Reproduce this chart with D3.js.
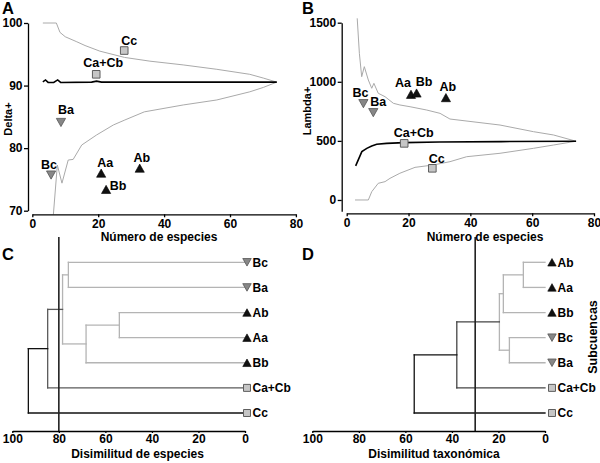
<!DOCTYPE html>
<html><head><meta charset="utf-8">
<script src="https://cdn.jsdelivr.net/npm/d3@7"></script>
<style>
body{margin:0;background:#fff}
svg{display:block}
</style></head><body>
<svg id="c" width="600" height="463"></svg>
<script>
// ---------- DATA ----------
const sites      = ["Aa","Ab","Ba","Bb","Bc","Ca+Cb","Cc"];
const siteGroup  = ["A","A","B","A","B","C","C"];
const speciesA   = [20.9, 32.6, 8.7, 22.4, 5.7, 19.4, 27.9];
const deltaPlus  = [76.0, 76.8, 84.1, 73.4, 75.7, 91.8, 95.6];
const speciesB   = [20.8, 32.1, 8.6, 22.6, 5.4, 18.6, 27.7];
const lambdaPlus = [894, 866, 739, 905, 815, 479, 268];

const deltaMean  = [[3.2,90.6],[4.0,90.9],[4.8,90.5],[6.5,90.5],[7.7,90.9],[8.6,90.5],[18,90.55],[19.5,90.7],[21,90.55],[74.2,90.55]];
const deltaUpper = [[3.2,100],[7.3,100],[8.4,98.5],[10,97.8],[13.5,97.0],[16,96.4],[20.5,95.5],[28,94.5],[35.7,93.9],[45.8,93.3],[56,92.6],[66,91.8],[70.1,91.2],[74.2,90.55]];
const deltaLower = [[6.4,69.4],[7.6,77.3],[9.0,74.4],[10.9,78.1],[12.4,78.2],[15.0,80.5],[19.5,82.1],[24.6,83.7],[28.1,84.5],[34,85.8],[45.8,86.9],[56,87.7],[66,89.0],[70.1,89.7],[74.2,90.55]];

const lambdaMean  = [[2.9,288],[4.9,409],[6.5,437],[8.1,457],[9.7,471],[12.9,479],[18.6,485],[30,490],[50,494],[74.2,497]];
const lambdaUpper = [[3.4,1537],[4.1,1241],[4.85,1043],[5.7,1128],[7.0,1015],[8.1,945],[8.8,987],[10.2,903],[12.4,874],[15.1,818],[17.2,804],[20.5,789],[25.9,761],[30.2,733],[33.4,685],[49.6,634],[60.4,578],[66.9,550],[74.2,497]];
const lambdaLower = [[2.7,0],[7.0,0],[8.1,70],[10.2,141],[12.4,155],[14.0,183],[17.2,226],[22.1,276],[28,296],[33.4,324],[38.8,366],[49.6,395],[60.4,437],[66.9,465],[74.2,497]];

const leavesC = ["Bc","Ba","Ab","Aa","Bb","Ca+Cb","Cc"];
const mergesC = [["Bc","Ba",75.9],["Ab","Aa",54.0],["m2","Bb",68.3],["m1","m3",78.4],["m4","Ca+Cb",84.8],["m5","Cc",93.1]];
const leavesD = ["Ab","Aa","Bb","Bc","Ba","Ca+Cb","Cc"];
const mergesD = [["Ab","Aa",9.3],["m1","Bb",17.9],["Bc","Ba",15.3],["m2","m3",19.6],["m4","Ca+Cb",37.9],["m5","Cc",56.2]];
const cutC = 80, cutD = 30;

const ticksX = [0,20,40,60,80];
const ticksDelta = [70,80,90,100];
const ticksLambda = [0,500,1000,1500];
const ticksDis = [100,80,60,40,20,0];

// ---------- STYLE ----------
const F = '"Liberation Sans", Arial, Helvetica, sans-serif';
const LIGHT = "#b4b4b4", DARK = "#5a5a5a", BLACK = "#111";
const colorsC = [LIGHT,LIGHT,LIGHT,LIGHT,DARK,BLACK];
const colorsD = [LIGHT,LIGHT,LIGHT,LIGHT,"#444",BLACK];
const labelOffA = {"Cc":[5,-5.5],"Ca+Cb":[7,-7.5],"Ba":[5,-8],"Bc":[-2,-6.5],"Aa":[4,-6.5],"Bb":[12,1],"Ab":[2,-6]};
const labelOffB = {"Aa":[-8,-7],"Bb":[7.5,-7],"Ab":[2,-7],"Bc":[-3,-7],"Ba":[5,-6.5],"Ca+Cb":[9.5,-6.5],"Cc":[4.5,-5.5]};

const svg = d3.select("#c");
const fmt = d3.format("d");

function markerPath(group, cx, cy, s){
  s = s || 1;
  const w = 4.6*s, h = 4.1*s, q = 3.8*s;
  if (group === "A") return `M${cx-w},${cy+h}L${cx+w},${cy+h}L${cx},${cy-h}Z`;
  if (group === "B") return `M${cx-w},${cy-h}L${cx+w},${cy-h}L${cx},${cy+h}Z`;
  return `M${cx-q},${cy-q}H${cx+q}V${cy+q}H${cx-q}Z`;
}
function markerStyle(sel, group){
  if (group === "A") sel.attr("fill","#111").attr("stroke","#000").attr("stroke-width",0.6);
  else if (group === "B") sel.attr("fill","#878787").attr("stroke","#555").attr("stroke-width",0.8);
  else sel.attr("fill","#c6c6c6").attr("stroke","#5e5e5e").attr("stroke-width",1);
}
function styleAxis(g){
  g.attr("font-family",F).attr("font-size",12).attr("font-weight","bold");
  g.selectAll("path,line").attr("stroke","#000").attr("stroke-width",1.3);
  g.selectAll("text").attr("fill","#000");
}
function txt(x,y,s,size,anchor,rot){
  const t = svg.append("text").attr("font-family",F).attr("font-weight","bold")
    .attr("font-size",size).attr("text-anchor",anchor||"start").attr("fill","#000").text(s);
  if (rot) t.attr("transform",`translate(${x},${y}) rotate(${rot})`);
  else t.attr("x",x).attr("y",y);
  return t;
}

// ---------- SCATTER PANELS ----------
function scatter(o){
  const g = svg.append("g");
  const line = d3.line().x(d=>o.x(d[0])).y(d=>o.y(d[1]));
  g.append("path").attr("d",line(o.upper)).attr("fill","none").attr("stroke","#aaa").attr("stroke-width",1);
  g.append("path").attr("d",line(o.lower)).attr("fill","none").attr("stroke","#aaa").attr("stroke-width",1);
  g.append("path").attr("d",line(o.mean)).attr("fill","none").attr("stroke","#000").attr("stroke-width",1.6);

  const ya = svg.append("g").attr("transform",`translate(${o.axX},0)`)
    .call(d3.axisLeft(o.y).tickValues(o.yTicks).tickFormat(fmt).tickSize(4).tickPadding(1.5).tickSizeOuter(0));
  styleAxis(ya);
  const xa = svg.append("g").attr("transform",`translate(0,${o.axY})`)
    .call(d3.axisBottom(o.x).tickValues(ticksX).tickFormat(fmt).tickSize(3).tickPadding(2).tickSizeOuter(0));
  styleAxis(xa);

  sites.forEach((s,i)=>{
    const cx = o.x(o.sx[i]), cy = o.y(o.sy[i]);
    const p = g.append("path").attr("d",markerPath(siteGroup[i],cx,cy));
    markerStyle(p, siteGroup[i]);
    const off = o.off[s];
    txt(cx+off[0], cy+off[1], s, 12.5, "middle");
  });
}

const xA = d3.scaleLinear([0,80],[32.3,295.9]);
const yA = d3.scaleLinear([70,100],[210.7,23]);
scatter({x:xA,y:yA,upper:deltaUpper,lower:deltaLower,mean:deltaMean,axX:28,axY:214.3,
  yTicks:ticksDelta,sx:speciesA,sy:deltaPlus,off:labelOffA});

const xB = d3.scaleLinear([0,80],[346.7,594]);
const yB = d3.scaleLinear([-95,1500],[211.2,22.7]);
scatter({x:xB,y:yB,upper:lambdaUpper,lower:lambdaLower,mean:lambdaMean,axX:341.7,axY:213.3,
  yTicks:ticksLambda,sx:speciesB,sy:lambdaPlus,off:labelOffB});

txt(11.5,119,"Delta+",11,"middle",-90);
txt(311,111,"Lambda+",11,"middle",-90);
txt(159,241,"Número de especies",12,"middle");
txt(485,241,"Número de especies",12,"middle");

// ---------- DENDROGRAMS ----------
function dendro(o){
  const y = d3.scalePoint(o.leaves,[262.3,413]);
  const x = o.x;
  const node = {};
  o.leaves.forEach(l=>node[l]={y:y(l),h:0});
  const g = svg.append("g").attr("fill","none").attr("stroke-linecap","square");
  o.merges.forEach((m,i)=>{
    const a = node[m[0]], b = node[m[1]], h = m[2], c = o.colors[i];
    node["m"+(i+1)] = {y:(a.y+b.y)/2, h:h};
    g.append("line").attr("x1",x(h)).attr("x2",x(h)).attr("y1",a.y).attr("y2",b.y).attr("stroke",c).attr("stroke-width",1.3);
    [a,b].forEach(ch=>{
      g.append("line").attr("x1",x(h)).attr("x2",x(ch.h)).attr("y1",ch.y).attr("y2",ch.y).attr("stroke",c).attr("stroke-width",1.3);
    });
  });
  svg.append("line").attr("x1",x(o.cut)).attr("x2",x(o.cut)).attr("y1",237).attr("y2",431)
    .attr("stroke","#222").attr("stroke-width",1.6);
  const xa = svg.append("g").attr("transform","translate(0,431)")
    .call(d3.axisBottom(x).tickValues(ticksDis).tickFormat(fmt).tickSize(2).tickPadding(1.5).tickSizeOuter(0));
  styleAxis(xa);
  o.leaves.forEach(l=>{
    const gi = siteGroup[sites.indexOf(l)];
    const p = svg.append("path").attr("d",markerPath(gi, x(0)+o.mdx, y(l), 0.92));
    markerStyle(p, gi);
    txt(x(0)+o.ldx, y(l)+4.4, l, 12, "start");
  });
}
const xC = d3.scaleLinear([100,0],[12.3,245]);
dendro({x:xC,leaves:leavesC,merges:mergesC,colors:colorsC,cut:cutC,mdx:2,ldx:7.5});
const xD = d3.scaleLinear([100,0],[312.3,545]);
dendro({x:xD,leaves:leavesD,merges:mergesD,colors:colorsD,cut:cutD,mdx:7,ldx:12.5});

txt(137.5,457.5,"Disimilitud de especies",12,"middle");
txt(434,457.5,"Disimilitud taxonómica",12,"middle");
txt(596.5,337,"Subcuencas",12.5,"middle",-90);

// panel letters
txt(2,14,"A",16.5);
txt(302,14,"B",16.5);
txt(2,260,"C",16.5);
txt(302,260,"D",16.5);
</script>
</body></html>
